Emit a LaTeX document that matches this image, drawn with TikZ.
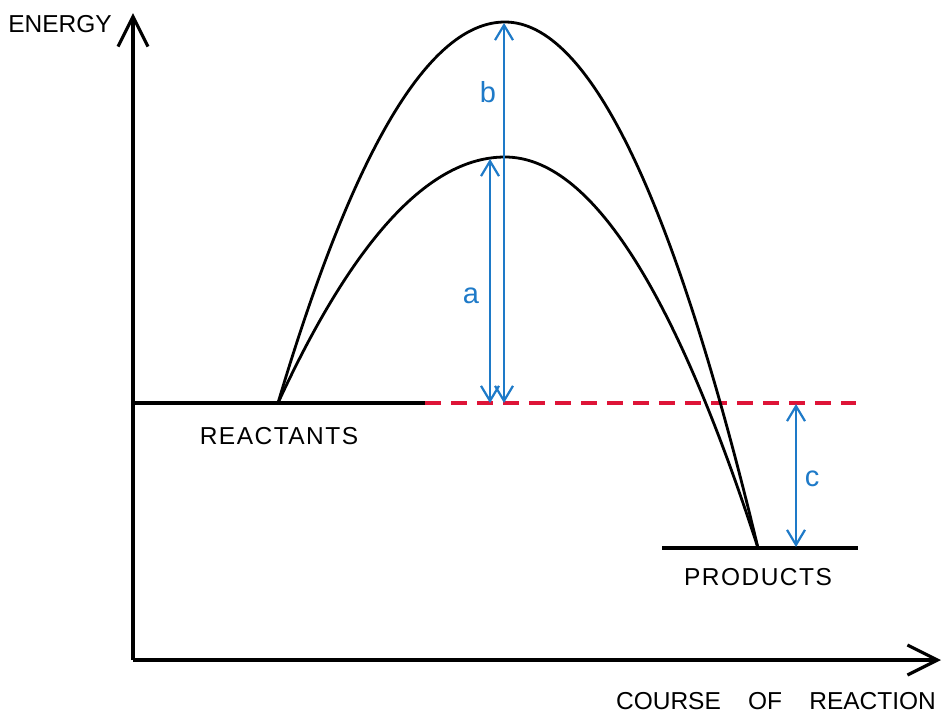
\documentclass[tikz,border=0pt]{standalone}
\usepackage{fontspec}
\setmainfont{Liberation Sans}
\newfontfamily\spaced[LetterSpace=6]{Liberation Sans}
\usetikzlibrary{arrows.meta}
\definecolor{arrowblue}{RGB}{30,122,200}
\definecolor{dashred}{RGB}{222,20,55}
\begin{document}
\begin{tikzpicture}[x=1pt,y=-1pt,
  axis/.style={line width=3.2pt,-{Straight Barb[length=30pt,width=30pt,line width=3.2pt]}},
  level/.style={line width=3.4pt},
  curve/.style={line width=2.8pt},
  refline/.style={line width=3.4pt,dashred,dash pattern=on 16pt off 10pt},
  gap/.style={line width=2.2pt,arrowblue,{Straight Barb[length=15pt,width=18pt,line width=2.2pt]}-{Straight Barb[length=15pt,width=18pt,line width=2.2pt]}},
  lbl/.style={font=\fontsize{24.5}{28}\selectfont,inner sep=0pt},
  gaplbl/.style={font=\fontsize{29}{32}\selectfont,text=arrowblue,inner sep=0pt}]
\useasboundingbox (0,0) rectangle (943,713);
% axes
\coordinate (origin) at (133,660);
\coordinate (ytop) at (133,13);
\coordinate (xend) at (941,660);
\draw[axis] (origin) -- (ytop);
\draw[axis] (origin) -- (xend);
% levels
\coordinate (rleft) at (133,403);
\coordinate (rstart) at (278,403);
\coordinate (rright) at (425,403);
\coordinate (dend) at (856,403);
\coordinate (pleft) at (662,548);
\coordinate (pend) at (758,548);
\coordinate (pright) at (858,548);
\draw[level] (rleft) -- (rright);
\draw[refline] (rright) -- (dend);
\draw[level] (pleft) -- (pright);
% curves
\coordinate (bpeak) at (505,22);
\coordinate (apeak) at (505,157);
\draw[curve] (rstart) .. controls (353.67,149) and (429.33,22) .. (bpeak)
  .. controls (589.33,22) and (673.67,197.33) .. (pend);
\draw[curve] (rstart) .. controls (353.67,239) and (429.33,157) .. (apeak)
  .. controls (589.33,157) and (673.67,287.33) .. (pend);
% gap arrows
\coordinate (btop) at (504,23);
\coordinate (bbot) at (504,403);
\coordinate (atop) at (490,159);
\coordinate (abot) at (490,403);
\coordinate (ctop) at (796,404);
\coordinate (cbot) at (796,547);
\draw[gap] (bbot) -- (btop);
\draw[gap] (abot) -- (atop);
\draw[gap] (cbot) -- (ctop);
% labels
\node[lbl] (energy) at (60,24) {ENERGY};
\node[lbl] (course) at (776,701) {COURSE\ \ \ \ OF\ \ \ \ REACTION};
\node[lbl] (reactants) at (279,436) {\spaced REACTANTS};
\node[lbl] (products) at (758,577) {\spaced PRODUCTS};
\node[gaplbl] (lb) at (488,92) {b};
\node[gaplbl] (la) at (471,296) {a};
\node[gaplbl] (lc) at (812,479) {c};
\end{tikzpicture}
\end{document}
